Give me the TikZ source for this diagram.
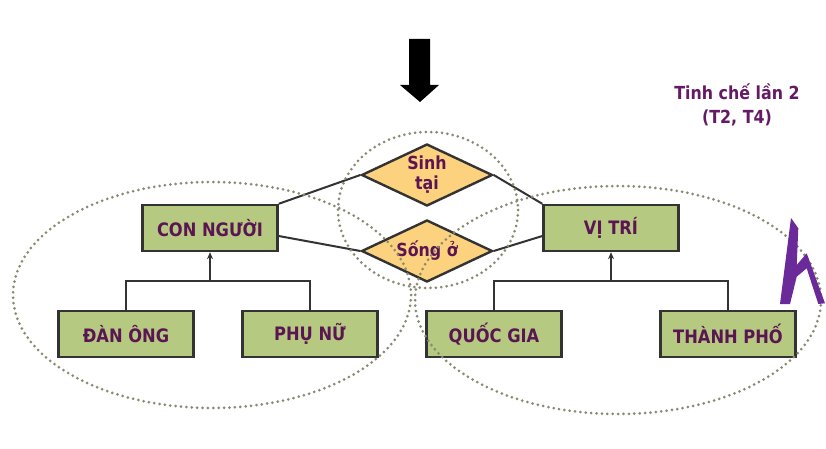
\documentclass[tikz,border=0pt]{standalone}
\usepackage{fontspec}
\setmainfont{DejaVu Sans}[FakeStretch=0.88]
\usetikzlibrary{shapes.geometric,arrows.meta}
\definecolor{boxgreen}{HTML}{B5C980}
\definecolor{diayellow}{HTML}{FCD27E}
\definecolor{txtpurple}{HTML}{5A1552}
\definecolor{ttlpurple}{HTML}{641A64}
\definecolor{edge}{HTML}{333333}
\definecolor{dots}{HTML}{868C70}
\definecolor{penpurple}{HTML}{6A2A9A}
\tikzset{
  entity/.style={draw=edge, line width=2.4pt, fill=boxgreen, minimum width=135pt, minimum height=46pt, inner sep=0pt,
    font=\fontsize{18.5}{20}\selectfont\bfseries, text=txtpurple},
  relation/.style={diamond, draw=edge, line width=2.4pt, fill=diayellow, aspect=2.1, inner sep=0pt,
    minimum width=131pt, minimum height=62pt, align=center,
    font=\fontsize{18}{20}\selectfont\bfseries, text=txtpurple},
  link/.style={draw=edge, line width=2pt},
  dotring/.style={draw=dots, line width=3pt, line cap=round, dash pattern=on 0pt off 5.4pt}
}
\begin{document}
\begin{tikzpicture}[x=1pt,y=-1pt]
\useasboundingbox[fill=white] (0,0) rectangle (826,449);

% top block arrow
\fill[black] (409,39) -- (430,39) -- (430,85) -- (439,85) -- (420,102) -- (400,85) -- (409,85) -- cycle;

% title
\node[align=center, text=ttlpurple, font=\fontsize{18}{24}\selectfont\bfseries] (title) at (737,105) {Tinh chế lần 2\\(T2, T4)};

% entities
\node[entity] (con) at (210,228) {CON NGƯỜI};
\node[entity] (vitri) at (611,228) {VỊ TRÍ};
\node[entity] (dan) at (126,334) {ĐÀN ÔNG};
\node[entity] (phu) at (310,334) {PHỤ NỮ};
\node[entity] (quoc) at (494,334) {QUỐC GIA};
\node[entity] (thanh) at (728,334) {THÀNH PHỐ};

% relations
\node[relation] (sinh) at (427,175) {Sinh\\tại};
\node[relation] (song) at (427,251) {Sống ở};

% relation links
\draw[link] (con.north east) -- (sinh.west);
\draw[link] ([yshift=-8pt]con.east) -- (song.west);
\draw[link] (vitri.north west) -- (sinh.east);
\draw[link] ([yshift=-8pt]vitri.west) -- (song.east);

% generalisation trees
\coordinate (barL) at (0,281);
\coordinate (barR) at (0,281);
\draw[link] (dan.north) -- (dan.north |- barL) -- (phu.north |- barL) -- (phu.north);
\draw[link, -{Stealth[length=7pt,width=6pt]}] (con.south |- barL) -- (con.south);
\draw[link] (quoc.north) -- (quoc.north |- barR) -- (thanh.north |- barR) -- (thanh.north);
\draw[link, -{Stealth[length=7pt,width=6pt]}] (vitri.south |- barR) -- (vitri.south);

% dotted groupings
\draw[dotring] (212,295) ellipse [x radius=199, y radius=113];
\draw[dotring] (618,300) ellipse [x radius=203, y radius=114];
\draw[dotring] (428,210) ellipse [x radius=90, y radius=78];

% pen annotation
\fill[penpurple] (791,218) -- (798.3,228.3) -- (796.7,265) -- (806.7,253.3) -- (825,303.3) -- (818.3,304)
  -- (806.7,268.3) -- (796.7,276.7) -- (790,304) -- (780,304) -- cycle;
\end{tikzpicture}
\end{document}
